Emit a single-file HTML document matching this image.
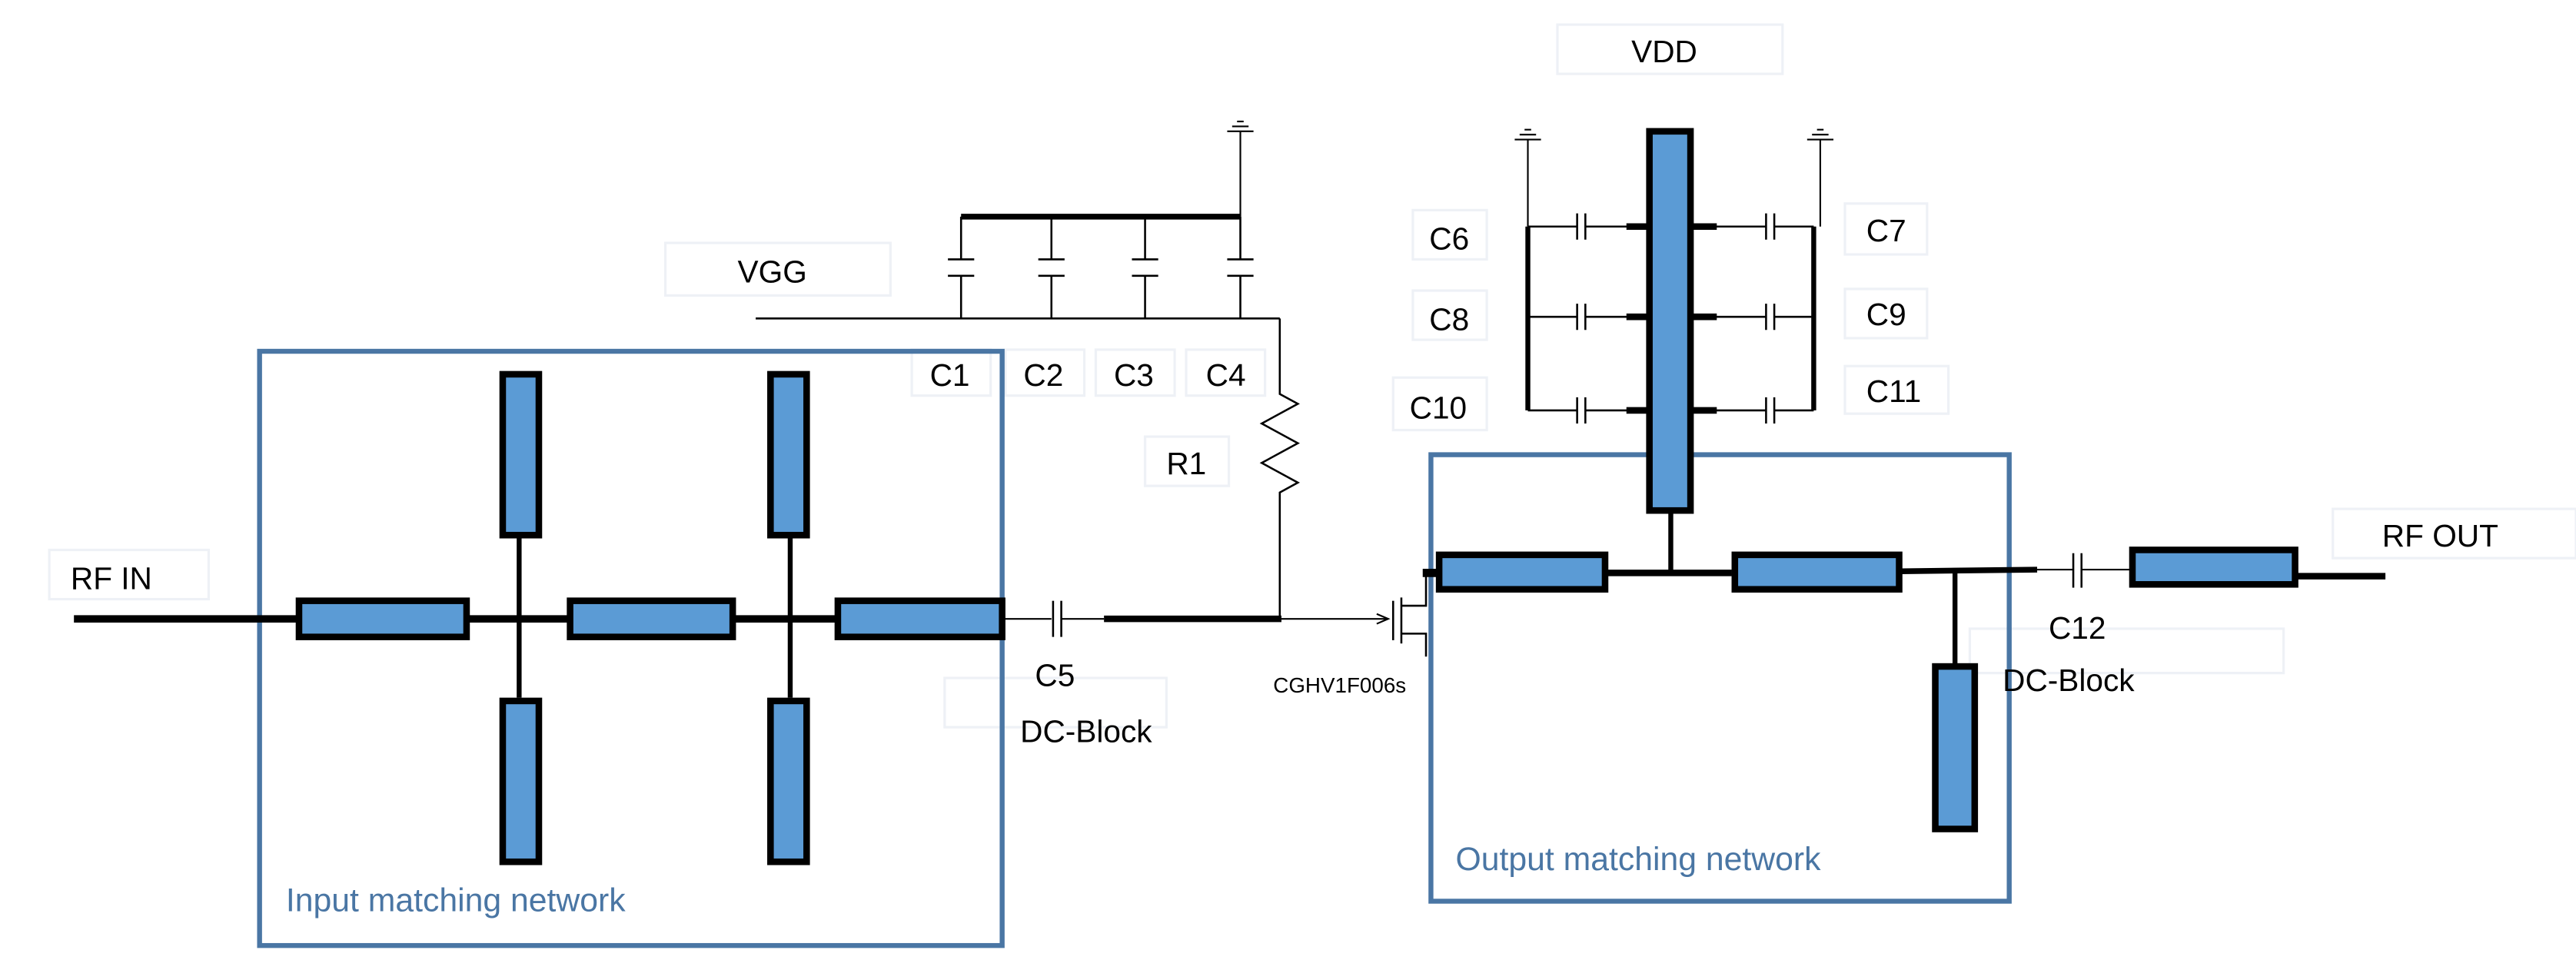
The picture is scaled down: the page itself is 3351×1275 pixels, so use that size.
<!DOCTYPE html>
<html><head><meta charset="utf-8"><style>
html,body{margin:0;padding:0;background:#fff;}
svg{display:block;}
text{font-family:"Liberation Sans",sans-serif;}
</style></head><body>
<svg width="3351" height="1275" viewBox="0 0 1568 597" preserveAspectRatio="none" xmlns="http://www.w3.org/2000/svg">
<g fill="#fff" stroke="#eef1f6" stroke-width="1.5">
<rect x="30" y="335" width="97" height="30"/>
<rect x="405" y="148" width="137" height="32"/>
<rect x="555" y="213" width="48" height="28"/><rect x="612" y="213" width="48" height="28"/>
<rect x="667" y="213" width="48" height="28"/><rect x="722" y="213" width="48" height="28"/>
<rect x="697" y="266" width="51" height="30"/>
<rect x="575" y="413" width="135" height="30"/>
<rect x="948" y="15" width="137" height="30"/>
<rect x="860" y="128" width="45" height="30"/><rect x="860" y="177" width="45" height="30"/><rect x="848" y="230" width="57" height="32"/>
<rect x="1123" y="124" width="50" height="31"/><rect x="1123" y="176" width="50" height="30"/><rect x="1123" y="223" width="63" height="29"/>
<rect x="1199" y="383" width="191" height="27"/>
<rect x="1420" y="310" width="148" height="30"/>
</g>
<rect x="158" y="214" width="452" height="362" fill="none" stroke="#4a76a4" stroke-width="3"/>
<rect x="871" y="277" width="352" height="272" fill="none" stroke="#4a76a4" stroke-width="3"/>
<g stroke="#000" fill="none">
<line x1="45" y1="377" x2="610" y2="377" stroke-width="4.5"/>
<line x1="316" y1="327" x2="316" y2="425" stroke-width="3"/>
<line x1="481" y1="327" x2="481" y2="425" stroke-width="3"/>
<line x1="610" y1="377" x2="640" y2="377" stroke-width="1"/>
<line x1="641" y1="366" x2="641" y2="388" stroke-width="1.2"/>
<line x1="646" y1="366" x2="646" y2="388" stroke-width="1.2"/>
<line x1="646" y1="377" x2="672" y2="377" stroke-width="1"/>
<line x1="672" y1="377" x2="780" y2="377" stroke-width="4"/>
<line x1="780" y1="377" x2="845" y2="377" stroke-width="1"/>
<line x1="460" y1="194" x2="779" y2="194" stroke-width="1.2"/>
<path d="M779 194 V240 L790 246 L768 258 L790 270 L768 282 L790 294 L779 300 V377" stroke-width="1.2"/>
<line x1="585" y1="132" x2="755" y2="132" stroke-width="3.5"/>
<line x1="755" y1="132" x2="755" y2="80" stroke-width="1"/>
<line x1="747" y1="80" x2="763" y2="80" stroke-width="1"/><line x1="750" y1="77" x2="760" y2="77" stroke-width="1"/><line x1="753" y1="74" x2="757" y2="74" stroke-width="1"/>
<g stroke-width="1.2">
<path d="M585 132V158M585 168V194M577 158H593M577 168H593"/>
<path d="M640 132V158M640 168V194M632 158H648M632 168H648"/>
<path d="M697 132V158M697 168V194M689 158H705M689 168H705"/>
<path d="M755 132V158M755 168V194M747 158H763M747 168H763"/>
</g>
<path d="M838 374 L845 377 L838 380" stroke-width="1"/>
<line x1="848" y1="366" x2="848" y2="390" stroke-width="1.2"/>
<line x1="853" y1="364" x2="853" y2="392" stroke-width="1.2"/>
<path d="M853 369H868V349M853 386H868V400" stroke-width="1.2"/>
<line x1="866" y1="349" x2="885" y2="349" stroke-width="5"/>
<line x1="978" y1="349" x2="1054" y2="349" stroke-width="4"/>
<line x1="1017" y1="312" x2="1017" y2="349" stroke-width="3"/>
<line x1="1157" y1="348" x2="1240" y2="347" stroke-width="3.5"/>
<line x1="1190" y1="348" x2="1190" y2="405" stroke-width="3"/>
<line x1="1240" y1="347" x2="1262" y2="347" stroke-width="1"/>
<line x1="1262" y1="337" x2="1262" y2="358" stroke-width="1.2"/>
<line x1="1267" y1="337" x2="1267" y2="358" stroke-width="1.2"/>
<line x1="1267" y1="347" x2="1297" y2="347" stroke-width="1"/>
<line x1="1398" y1="351" x2="1452" y2="351" stroke-width="4"/>
<line x1="930" y1="138" x2="930" y2="250" stroke-width="3"/>
<line x1="1104" y1="138" x2="1104" y2="250" stroke-width="3"/>
<line x1="930" y1="138" x2="930" y2="85" stroke-width="1"/>
<line x1="1108" y1="138" x2="1108" y2="85" stroke-width="1"/>
<path d="M922 85H938M925 82H935M928 79H932M1100 85H1116M1103 82H1113M1106 79H1110" stroke-width="1"/>
<g stroke-width="1.2">
<path d="M930 138H960M965 138H1003M960 130V146M965 130V146M1030 138H1075M1080 138H1104M1075 130V146M1080 130V146"/>
<path d="M930 193H960M965 193H1003M960 185V201M965 185V201M1030 193H1075M1080 193H1104M1075 185V201M1080 185V201"/>
<path d="M930 250H960M965 250H1003M960 242V258M965 242V258M1030 250H1075M1080 250H1104M1075 242V258M1080 242V258"/>
</g>
<g stroke-width="4">
<path d="M990 138H1003M1030 138H1045M990 193H1003M1030 193H1045M990 250H1003M1030 250H1045"/>
</g>
</g>
<g fill="#5b9bd5" stroke="#000" stroke-width="4">
<rect x="182" y="366" width="102" height="22"/>
<rect x="347" y="366" width="99" height="22"/>
<rect x="510" y="366" width="100" height="22"/>
<rect x="306" y="228" width="22" height="98"/>
<rect x="306" y="427" width="22" height="98"/>
<rect x="469" y="228" width="22" height="98"/>
<rect x="469" y="427" width="22" height="98"/>
<rect x="876" y="338" width="101" height="21"/>
<rect x="1056" y="338" width="100" height="21"/>
<rect x="1298" y="335" width="99" height="21"/>
<rect x="1004" y="80" width="25" height="231"/>
<rect x="1178" y="406" width="24" height="99"/>
</g>
<g fill="#000" font-size="19">
<text x="43" y="359">RF IN</text>
<text x="449" y="172">VGG</text>
<text x="566" y="235">C1</text><text x="623" y="235">C2</text><text x="678" y="235">C3</text><text x="734" y="235">C4</text>
<text x="710" y="289">R1</text>
<text x="630" y="418">C5</text>
<text x="621" y="452">DC-Block</text>
<text x="993" y="38">VDD</text>
<text x="870" y="152">C6</text><text x="870" y="201">C8</text><text x="858" y="255">C10</text>
<text x="1136" y="147">C7</text><text x="1136" y="198">C9</text><text x="1136" y="245">C11</text>
<text x="1247" y="389">C12</text>
<text x="1219" y="421">DC-Block</text>
<text x="1450" y="333">RF OUT</text>
<text x="775" y="422" font-size="13">CGHV1F006s</text>
</g>
<g fill="#4a76a4" font-size="20">
<text x="174" y="555">Input matching network</text>
<text x="886" y="530">Output matching network</text>
</g>
</svg>
</body></html>
